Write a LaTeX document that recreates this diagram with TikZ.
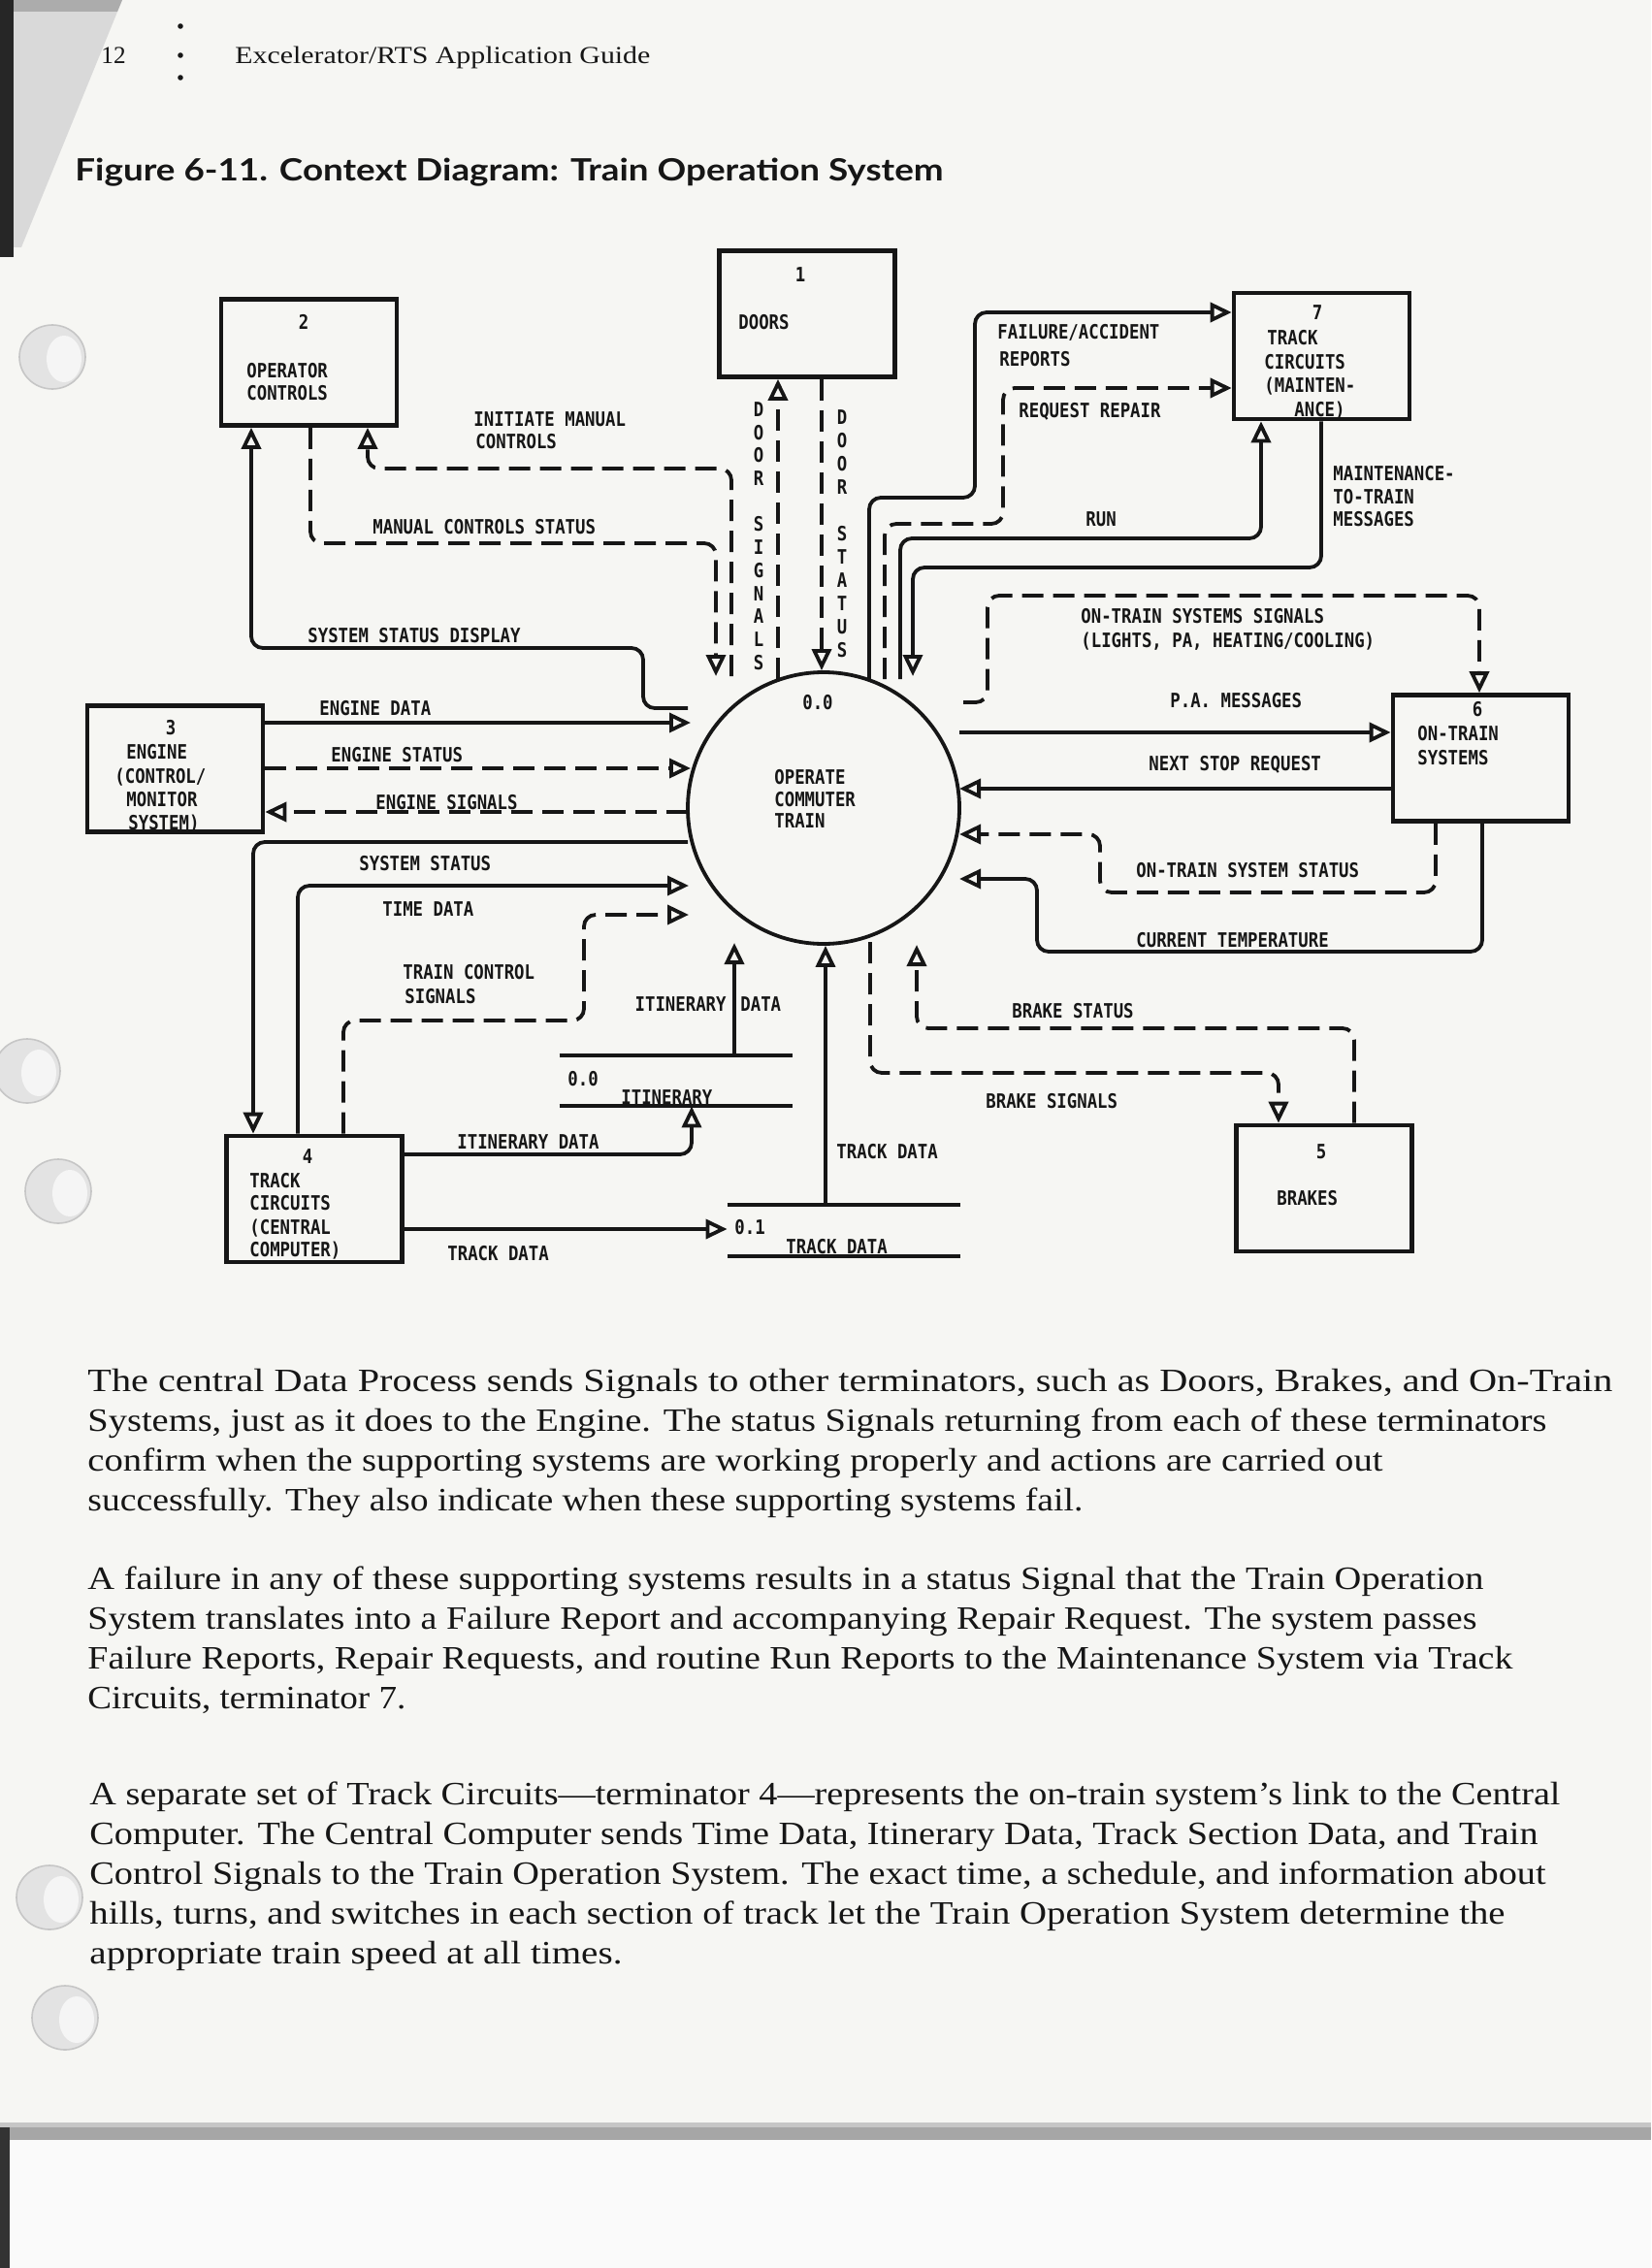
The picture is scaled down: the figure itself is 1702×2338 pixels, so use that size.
\documentclass[tikz,border=0pt]{standalone}
\usepackage{fontspec}
\usepackage{graphicx}
\setmainfont{Liberation Serif}
\newfontfamily\dfd{DejaVu Sans Mono Bold}[FakeStretch=0.85]
\newfontfamily\ttlfont{Lato}
\usetikzlibrary{arrows.meta}
\definecolor{paper}{RGB}{246,246,243}
\definecolor{ink}{RGB}{22,22,22}
\begin{document}
\begin{tikzpicture}[x=0.5pt,y=-0.5pt,
  box/.style={draw=ink, line width=2.3pt, minimum width=90.5pt, minimum height=65pt, inner sep=0pt},
  lbl/.style={font=\dfd\fontsize{10.2pt}{12pt}\selectfont, text=ink, inner sep=0pt, anchor=west, text height=7.4pt, text depth=0pt},
  num/.style={lbl, anchor=center},
  flow/.style={draw=ink, line width=1.9pt, rounded corners=6pt, -{Triangle[open, length=11pt, width=10pt]}},
  dflow/.style={flow, dash pattern=on 11pt off 5pt},
  store/.style={minimum width=120pt, minimum height=26pt, inner sep=0pt},
  storeline/.style={draw=ink, line width=2pt},
  body/.style={font=\fontsize{16.8pt}{20pt}\selectfont, text=ink, inner sep=0pt, anchor=base west},
  hole/.style={fill=gray!22, draw=gray!45, line width=0.8pt},
  holein/.style={fill=white!92!gray, draw=none},
]
% page
\fill[paper] (0,0) rectangle (1702,2338);
\useasboundingbox (0,0) rectangle (1702,2338);
% scan edges
\fill[gray!30] (14,0) -- (126,0) -- (22,255) -- (14,255) -- cycle;
\fill[gray!65] (14,0) -- (126,0) -- (121,12) -- (14,12) -- cycle;
\fill[black!85] (0,0) -- (14,0) -- (14,265) -- (0,265) -- cycle;
\fill[gray!45] (0,2188) rectangle (1702,2193);
\fill[gray!70] (0,2193) rectangle (1702,2206);
\fill[white!96!gray] (0,2206) rectangle (1702,2338);
\fill[black!80] (0,2193) rectangle (10,2338);
% binder holes
\foreach \hx/\hy [count=\k] in {54/368, 28/1104, 60/1228, 51/1956, 67/2080} {
  \fill[hole] (\hx,\hy) ellipse [x radius=17pt, y radius=16.5pt];
  \fill[holein] (\hx+12,\hy+2) ellipse [x radius=9pt, y radius=12pt];
}

% header
\fill[ink] (186,27) circle (1.4pt);
\fill[ink] (186,57) circle (1.4pt);
\fill[ink] (186,80) circle (1.4pt);
\node[anchor=base west, inner sep=0pt, font=\fontsize{12.6pt}{14pt}\selectfont, text=ink] (pgno) at (104,66) {12};
\node[anchor=base west, inner sep=0pt, font=\fontsize{12.6pt}{14pt}\selectfont, text=ink] (hdr) at (242,66) {\resizebox{214pt}{\height}{Excelerator/RTS Application Guide}};
\node[anchor=base west, inner sep=0pt, font=\ttlfont\bfseries\fontsize{15.8pt}{18pt}\selectfont, text=ink] (title) at (77,187) {\resizebox{447.5pt}{\height}{Figure 6-11. Context Diagram: Train Operation System}};

% ---------- terminators ----------
\node[box] (doors) at (832,323.5) {};
\node[num] (doorsn) at (825,283) {1};
\node[lbl] (doorst) at (761,332) {DOORS};

\node[box] (opctl) at (318.5,373.5) {};
\node[num] (opctln) at (313,332) {2};
\node[lbl] (opctl1) at (254,382) {OPERATOR};
\node[lbl] (opctl2) at (254,405) {CONTROLS};

\node[box] (track7) at (1362.5,367) {};
\node[num] (t7n) at (1358,322) {7};
\node[lbl] (t7a) at (1306,348) {TRACK};
\node[lbl] (t7b) at (1303,373) {CIRCUITS};
\node[lbl] (t7c) at (1303,397) {(MAINTEN-};
\node[lbl] (t7d) at (1334,422) {ANCE)};

\node[box] (engine) at (180.5,792.5) {};
\node[num] (engn) at (176,750) {3};
\node[lbl] (eng1) at (130,775) {ENGINE};
\node[lbl] (eng2) at (118,800) {(CONTROL/};
\node[lbl] (eng3) at (130,824) {MONITOR};
\node[lbl] (eng4) at (132,848) {SYSTEM)};

\node[box] (onsys) at (1526.5,781.5) {};
\node[num] (onsn) at (1523,731) {6};
\node[lbl] (ons1) at (1461,756) {ON-TRAIN};
\node[lbl] (ons2) at (1461,781) {SYSTEMS};

\node[box] (track4) at (324,1236) {};
\node[num] (t4n) at (317,1192) {4};
\node[lbl] (t4a) at (257,1217) {TRACK};
\node[lbl] (t4b) at (257,1240) {CIRCUITS};
\node[lbl] (t4c) at (257,1265) {(CENTRAL};
\node[lbl] (t4d) at (257,1288) {COMPUTER)};

\node[box] (brakes) at (1365,1225) {};
\node[num] (brn) at (1362,1187) {5};
\node[lbl] (brt) at (1316,1235) {BRAKES};

% ---------- process ----------
\node[draw=ink, circle, line width=1.9pt, minimum size=140pt, inner sep=0pt] (proc) at (849,833) {};
\node[num] (procn) at (843,724) {0.0};
\node[lbl] (proc1) at (798,801) {OPERATE};
\node[lbl] (proc2) at (798,824) {COMMUTER};
\node[lbl] (proc3) at (798,846) {TRAIN};

% ---------- data stores ----------
\node[store] (st0) at (697,1114) {};
\draw[storeline] (st0.north west) -- (st0.north east);
\draw[storeline] (st0.south west) -- (st0.south east);
\node[lbl] (st0n) at (585,1112) {0.0};
\node[lbl] (st0t) at (640,1131) {ITINERARY};

\node[store, minimum height=26.5pt] (st1) at (870,1268.5) {};
\draw[storeline] (st1.north west) -- (st1.north east);
\draw[storeline] (st1.south west) -- (st1.south east);
\node[lbl] (st1n) at (757,1265) {0.1};
\node[lbl] (st1t) at (810,1285) {TRACK DATA};

% ---------- free ends near the process ----------
\coordinate (e1) at (709,730);
\coordinate (e2) at (754,697);
\coordinate (e3) at (738,697);
\coordinate (e4) at (802,700);
\coordinate (e6) at (896,700);
\coordinate (e7) at (912,700);
\coordinate (e8) at (928,700);
\coordinate (e9) at (941,697);
\coordinate (e10) at (993,724);
\coordinate (e11) at (989,755);
\coordinate (e12) at (989,813);
\coordinate (e13) at (989,860);
\coordinate (e14) at (989,906);
\coordinate (e15) at (945,974);
\coordinate (e16) at (897,971);
\coordinate (e18) at (757,972);
\coordinate (e21) at (710,943);
\coordinate (e22) at (710,913);
\coordinate (e23) at (709,868);
\coordinate (e24) at (712,745);
\coordinate (e25) at (712,792);
\coordinate (e26) at (709,837);

% ---------- flows ----------
% operator controls
\draw[flow] (e1) -- (663,730) -- (663,668) -- (259,668) -- (opctl.south -| 259,0);
\node[lbl] (l1) at (317,655) {SYSTEM STATUS DISPLAY};
\draw[dflow] (e2) -- (754,483) -- (379,483) -- (opctl.south -| 379,0);
\node[lbl] (l2a) at (488,432) {INITIATE MANUAL};
\node[lbl] (l2b) at (490,455) {CONTROLS};
\draw[dflow] (opctl.south -| 320,0) -- (320,560) -- (738,560) -- (e3);
\node[lbl] (l3) at (384,543) {MANUAL CONTROLS STATUS};

% doors
\draw[dflow] (e4) -- (doors.south -| 802,0);
\draw[dflow] (doors.south -| 847,0) -- (proc.north -| 847,0);
\foreach \c [count=\i from 0] in {D,O,O,R,{ },S,I,G,N,A,L,S}
  \node[num] (ds\i) at (782,422+\i*23.7) {\c};
\foreach \c [count=\i from 0] in {D,O,O,R,{ },S,T,A,T,U,S}
  \node[num] (dt\i) at (868,430+\i*24) {\c};

% track circuits 7
\draw[flow] (e6) -- (896,513) -- (1005,513) -- (1005,322) -- (track7.west |- 0,322);
\node[lbl] (l6a) at (1028,342) {FAILURE/ACCIDENT};
\node[lbl] (l6b) at (1030,370) {REPORTS};
\draw[dflow] (e7) -- (912,540) -- (1034,540) -- (1034,400) -- (track7.west |- 0,400);
\node[lbl] (l7) at (1050,423) {REQUEST REPAIR};
\draw[flow] (e8) -- (928,555) -- (1300,555) -- (track7.south -| 1300,0);
\node[lbl] (l8) at (1119,535) {RUN};
\draw[flow] (track7.south -| 1362,0) -- (1362,585) -- (941,585) -- (e9);
\node[lbl] (l9a) at (1374,488) {MAINTENANCE-};
\node[lbl] (l9b) at (1374,512) {TO-TRAIN};
\node[lbl] (l9c) at (1374,535) {MESSAGES};

% on-train systems
\draw[dflow] (e10) -- (1018,724) -- (1018,614) -- (1525,614) -- (onsys.north -| 1525,0);
\node[lbl] (l10a) at (1114,635) {ON-TRAIN SYSTEMS SIGNALS};
\node[lbl] (l10b) at (1114,660) {(LIGHTS, PA, HEATING/COOLING)};
\draw[flow] (e11) -- (onsys.west |- 0,755);
\node[lbl] (l11) at (1206,722) {P.A. MESSAGES};
\draw[flow] (onsys.west |- 0,813) -- (e12);
\node[lbl] (l12) at (1184,787) {NEXT STOP REQUEST};
\draw[dflow] (onsys.south -| 1480,0) -- (1480,920) -- (1134,920) -- (1134,860) -- (e13);
\node[lbl] (l13) at (1171,897) {ON-TRAIN SYSTEM STATUS};
\draw[flow] (onsys.south -| 1528,0) -- (1528,981) -- (1069,981) -- (1069,906) -- (e14);
\node[lbl] (l14) at (1171,969) {CURRENT TEMPERATURE};

% brakes
\draw[dflow] (brakes.north -| 1396,0) -- (1396,1060) -- (945,1060) -- (e15);
\node[lbl] (l15) at (1043,1042) {BRAKE STATUS};
\draw[dflow] (e16) -- (897,1106) -- (1318,1106) -- (brakes.north -| 1318,0);
\node[lbl] (l16) at (1016,1135) {BRAKE SIGNALS};

% data stores and track circuits 4
\draw[flow] (st1.north -| 851,0) -- (proc.south -| 851,0);
\node[lbl] (l17) at (862,1187) {TRACK DATA};
\draw[flow] (st0.north -| 757,0) -- (e18);
\node[lbl, anchor=east] (l18a) at (749,1035) {ITINERARY};
\node[lbl] (l18b) at (763,1035) {DATA};
\draw[flow] (track4.east |- 0,1190) -- (713,1190) -- (st0.south -| 713,0);
\node[lbl] (l19) at (471,1177) {ITINERARY DATA};
\draw[flow] (track4.east |- 0,1267) -- (st1.west |- 0,1267);
\node[lbl] (l20) at (461,1292) {TRACK DATA};
\draw[dflow] (track4.north -| 354,0) -- (354,1052) -- (602,1052) -- (602,943) -- (e21);
\node[lbl] (l21a) at (415,1002) {TRAIN CONTROL};
\node[lbl] (l21b) at (417,1027) {SIGNALS};
\draw[flow] (track4.north -| 307,0) -- (307,913) -- (e22);
\node[lbl] (l22) at (394,937) {TIME DATA};
\draw[flow] (e23) -- (261,868) -- (track4.north -| 261,0);
\node[lbl] (l23) at (370,890) {SYSTEM STATUS};

% engine
\draw[flow] (engine.east |- 0,745) -- (e24);
\node[lbl] (l24) at (329,730) {ENGINE DATA};
\draw[dflow] (engine.east |- 0,792) -- (e25);
\node[lbl] (l25) at (341,778) {ENGINE STATUS};
\draw[dflow] (e26) -- (engine.east |- 0,837);
\node[lbl] (l26) at (387,827) {ENGINE SIGNALS};

% ---------- body text ----------
\node[body] (b1) at (90,1434) {\resizebox{786pt}{\height}{The central Data Process sends Signals to other terminators, such as Doors, Brakes, and On-Train}};
\node[body] (b2) at (90,1475) {\resizebox{752pt}{\height}{Systems, just as it does to the Engine. The status Signals returning from each of these terminators}};
\node[body] (b3) at (90,1516) {\resizebox{667.5pt}{\height}{confirm when the supporting systems are working properly and actions are carried out}};
\node[body] (b4) at (90,1557) {\resizebox{513pt}{\height}{successfully. They also indicate when these supporting systems fail.}};

\node[body] (b5) at (90,1638) {\resizebox{719.5pt}{\height}{A failure in any of these supporting systems results in a status Signal that the Train Operation}};
\node[body] (b6) at (90,1679) {\resizebox{716pt}{\height}{System translates into a Failure Report and accompanying Repair Request. The system passes}};
\node[body] (b7) at (90,1720) {\resizebox{734.5pt}{\height}{Failure Reports, Repair Requests, and routine Run Reports to the Maintenance System via Track}};
\node[body] (b8) at (90,1761) {\resizebox{164pt}{\height}{Circuits, terminator 7.}};

\node[body] (b9) at (92,1860) {\resizebox{758pt}{\height}{A separate set of Track Circuits—terminator 4—represents the on-train system’s link to the Central}};
\node[body] (b10) at (92,1901) {\resizebox{746.5pt}{\height}{Computer. The Central Computer sends Time Data, Itinerary Data, Track Section Data, and Train}};
\node[body] (b11) at (92,1942) {\resizebox{750.5pt}{\height}{Control Signals to the Train Operation System. The exact time, a schedule, and information about}};
\node[body] (b12) at (92,1983) {\resizebox{729.5pt}{\height}{hills, turns, and switches in each section of track let the Train Operation System determine the}};
\node[body] (b13) at (92,2024) {\resizebox{274.5pt}{\height}{appropriate train speed at all times.}};
\end{tikzpicture}
\end{document}
